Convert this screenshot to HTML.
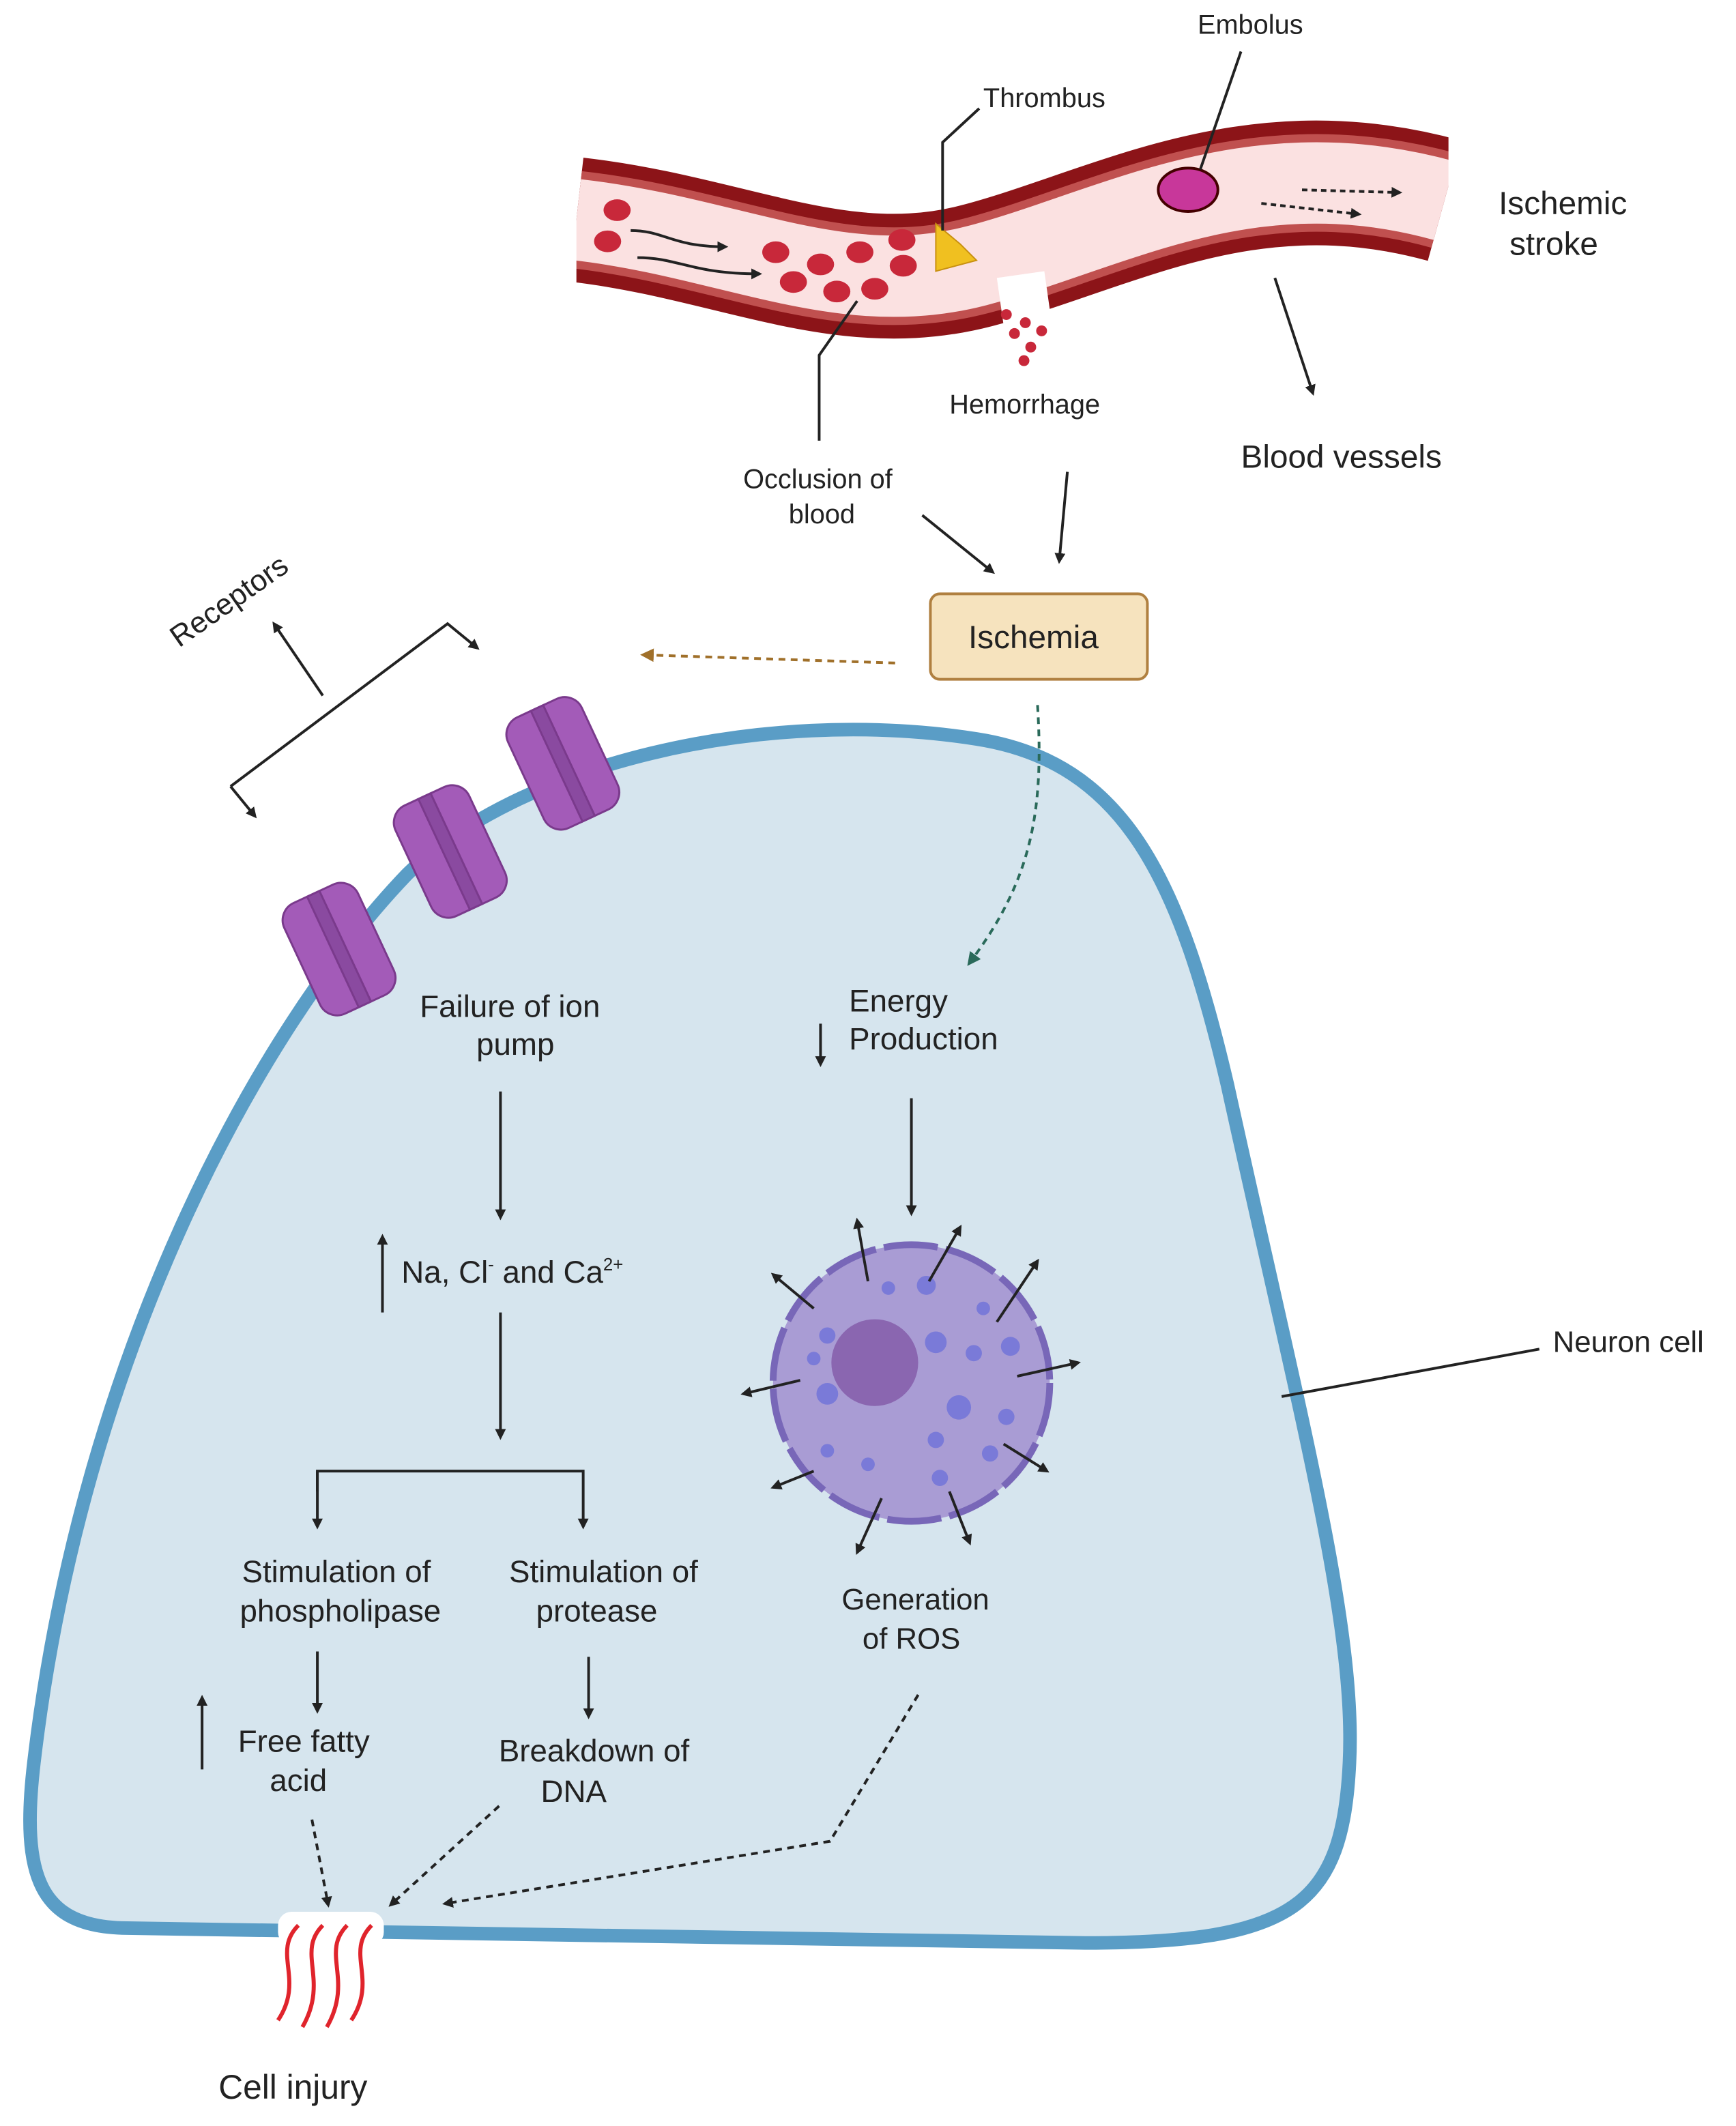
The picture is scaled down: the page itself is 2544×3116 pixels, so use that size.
<!DOCTYPE html>
<html><head><meta charset="utf-8"><style>
html,body{margin:0;padding:0;background:#fff}
svg{display:block}
text{font-family:"Liberation Sans",sans-serif;fill:#222}
</style></head><body>
<svg width="2544" height="3116" viewBox="0 0 1280 1568" preserveAspectRatio="none">
<defs>
<marker id="a" markerWidth="8" markerHeight="8" refX="6" refY="4" orient="auto" markerUnits="userSpaceOnUse"><path d="M0,0 L8,4 L0,8 Z" fill="#222"/></marker>
<marker id="ab" markerWidth="10" markerHeight="10" refX="7" refY="5" orient="auto" markerUnits="userSpaceOnUse"><path d="M0,0 L10,5 L0,10 Z" fill="#a0702a"/></marker>
<marker id="ag" markerWidth="10" markerHeight="10" refX="7" refY="5" orient="auto" markerUnits="userSpaceOnUse"><path d="M0,0 L10,5 L0,10 Z" fill="#2a6a5a"/></marker>
</defs>
<!-- vessel -->
<g fill="none">
<path d="M425,162 C540,175 620,222 720,196 C820,170 920,108 1065,148" stroke="#8c1418" stroke-width="92"/>
<path d="M425,162 C540,175 620,222 720,196 C820,170 920,108 1065,148" stroke="#c0504f" stroke-width="72"/>
<path d="M425,162 C540,175 620,222 720,196 C820,170 920,108 1065,148" stroke="#fbe1e1" stroke-width="60"/>
</g>
<rect x="380" y="90" width="45" height="150" fill="#fff"/>
<rect x="1068" y="60" width="60" height="180" fill="#fff"/>
<path d="M735,205 L770,200 L775,235 L740,240Z" fill="#fff"/>
<g fill="#c8283a">
<ellipse cx="455" cy="155" rx="10" ry="8"/><ellipse cx="448" cy="178" rx="10" ry="8"/>
<ellipse cx="572" cy="186" rx="10" ry="8"/><ellipse cx="605" cy="195" rx="10" ry="8"/>
<ellipse cx="634" cy="186" rx="10" ry="8"/><ellipse cx="665" cy="177" rx="10" ry="8"/>
<ellipse cx="585" cy="208" rx="10" ry="8"/><ellipse cx="617" cy="215" rx="10" ry="8"/>
<ellipse cx="645" cy="213" rx="10" ry="8"/><ellipse cx="666" cy="196" rx="10" ry="8"/>
<circle cx="742" cy="232" r="4"/><circle cx="756" cy="238" r="4"/><circle cx="748" cy="246" r="4"/><circle cx="768" cy="244" r="4"/><circle cx="760" cy="256" r="4"/><circle cx="755" cy="266" r="4"/>
</g>
<path d="M690,165 L708,180 L720,192 L690,200Z" fill="#f0c020" stroke="#c89010"/>
<ellipse cx="876" cy="140" rx="22" ry="16" fill="#c8379a" stroke="#400" stroke-width="2"/>
<g stroke="#222" stroke-width="2" fill="none">
<path d="M465,170 C490,170 495,182 535,182" marker-end="url(#a)"/>
<path d="M470,190 C500,190 510,202 560,202" marker-end="url(#a)"/>
<path d="M960,140 L1032,142" stroke-dasharray="4,3" marker-end="url(#a)"/>
<path d="M930,150 L1002,158" stroke-dasharray="4,3" marker-end="url(#a)"/>
<path d="M695,170 L695,105 L722,80"/>
<path d="M885,125 L915,38"/>
<path d="M604,325 L604,262 L632,222"/>
<path d="M940,205 L968,290" marker-end="url(#a)"/>
<path d="M680,380 L732,422" marker-end="url(#a)"/>
<path d="M787,348 L781,414" marker-end="url(#a)"/>
</g>
<text x="883" y="25" font-size="20">Embolus</text>
<text x="725" y="79" font-size="20">Thrombus</text>
<text x="1105" y="158" font-size="24">Ischemic</text>
<text x="1113" y="188" font-size="24">stroke</text>
<text x="700" y="305" font-size="20">Hemorrhage</text>
<text x="915" y="345" font-size="24">Blood vessels</text>
<text x="603" y="360" font-size="20" text-anchor="middle">Occlusion of</text>
<text x="606" y="386" font-size="20" text-anchor="middle">blood</text>
<rect x="686" y="438" width="160" height="63" rx="7" fill="#f6e3be" stroke="#b08040" stroke-width="2"/>
<text x="762" y="478" font-size="24" text-anchor="middle">Ischemia</text>
<path d="M660,489 L475,483" stroke="#a0702a" stroke-width="2" stroke-dasharray="5,4" fill="none" marker-end="url(#ab)"/>
<!-- cell -->
<path d="M300,645 C380,565 560,520 720,545 C830,562 870,650 905,800 C960,1050 1000,1200 995,1300 C990,1405 955,1433 800,1433 L90,1422 C30,1420 15,1385 25,1300 C60,1000 190,760 300,645 Z" fill="#d6e5ee" stroke="#5a9dc6" stroke-width="10"/>
<path d="M765,520 C770,600 760,650 715,710" stroke="#2a6a5a" stroke-width="2" stroke-dasharray="5,4" fill="none" marker-end="url(#ag)"/>
<!-- receptors -->
<g fill="#a35bb8" stroke="#7a3a8c" stroke-width="1.5">
<g transform="translate(250,700) rotate(-25)"><rect x="-30" y="-45" width="60" height="90" rx="14"/><rect x="-5" y="-45" width="10" height="90" fill="#8a4aa0"/></g>
<g transform="translate(332,628) rotate(-25)"><rect x="-30" y="-45" width="60" height="90" rx="14"/><rect x="-5" y="-45" width="10" height="90" fill="#8a4aa0"/></g>
<g transform="translate(415,563) rotate(-25)"><rect x="-30" y="-45" width="60" height="90" rx="14"/><rect x="-5" y="-45" width="10" height="90" fill="#8a4aa0"/></g>
</g>
<g stroke="#222" stroke-width="2" fill="none">
<path d="M170,580 L330,460 L352,478" marker-end="url(#a)"/>
<path d="M170,580 L188,602" marker-end="url(#a)"/>
<path d="M238,513 L202,460" marker-end="url(#a)"/>
</g>
<text x="0" y="0" font-size="22" transform="translate(132,478) rotate(-35)">Receptors</text>
<!-- nucleus -->
<circle cx="672" cy="1020" r="102" fill="#a99cd4" stroke="#7867b8" stroke-width="5" stroke-dasharray="40,6"/>
<circle cx="645" cy="1005" r="32" fill="#8a66b0"/>
<g fill="#7a7ad8">
<circle cx="683" cy="948" r="7"/><circle cx="610" cy="985" r="6"/><circle cx="600" cy="1002" r="5"/><circle cx="690" cy="990" r="8"/><circle cx="718" cy="998" r="6"/><circle cx="745" cy="993" r="7"/>
<circle cx="610" cy="1028" r="8"/><circle cx="707" cy="1038" r="9"/><circle cx="742" cy="1045" r="6"/><circle cx="690" cy="1062" r="6"/><circle cx="730" cy="1072" r="6"/><circle cx="610" cy="1070" r="5"/><circle cx="640" cy="1080" r="5"/><circle cx="693" cy="1090" r="6"/><circle cx="655" cy="950" r="5"/><circle cx="725" cy="965" r="5"/>
</g>
<g stroke="#222" stroke-width="2" fill="none">
<path d="M672,810 L672,895" marker-end="url(#a)"/>
<path d="M640,945 L632,900" marker-end="url(#a)"/>
<path d="M685,945 L708,905" marker-end="url(#a)"/>
<path d="M735,975 L765,930" marker-end="url(#a)"/>
<path d="M600,965 L570,940" marker-end="url(#a)"/>
<path d="M750,1015 L795,1005" marker-end="url(#a)"/>
<path d="M590,1018 L548,1028" marker-end="url(#a)"/>
<path d="M740,1065 L772,1085" marker-end="url(#a)"/>
<path d="M600,1085 L570,1097" marker-end="url(#a)"/>
<path d="M650,1105 L632,1145" marker-end="url(#a)"/>
<path d="M700,1100 L715,1138" marker-end="url(#a)"/>
<path d="M605,755 L605,785" marker-end="url(#a)"/>
<path d="M369,805 L369,898" marker-end="url(#a)"/>
<path d="M282,968 L282,912" marker-end="url(#a)"/>
<path d="M369,968 L369,1060" marker-end="url(#a)"/>
<path d="M234,1100 L234,1085 L430,1085 L430,1126" marker-end="url(#a)"/>
<path d="M234,1085 L234,1126" marker-end="url(#a)"/>
<path d="M234,1218 L234,1262" marker-end="url(#a)"/>
<path d="M434,1222 L434,1266" marker-end="url(#a)"/>
<path d="M149,1305 L149,1252" marker-end="url(#a)"/>
<path d="M230,1342 L242,1405" stroke-dasharray="5,4" marker-end="url(#a)"/>
<path d="M368,1332 L288,1405" stroke-dasharray="5,4" marker-end="url(#a)"/>
<path d="M677,1250 L612,1358 L328,1404" stroke-dasharray="5,4" marker-end="url(#a)"/>
<path d="M945,1030 L1135,995"/>
</g>
<text x="376" y="750" font-size="23" text-anchor="middle">Failure of ion</text>
<text x="380" y="778" font-size="23" text-anchor="middle">pump</text>
<text x="626" y="746" font-size="23">Energy</text>
<text x="626" y="774" font-size="23">Production</text>
<text x="296" y="946" font-size="23">Na, Cl<tspan font-size="13" dy="-9">-</tspan><tspan dy="9"> and Ca</tspan><tspan font-size="13" dy="-9">2+</tspan></text>
<text x="248" y="1167" font-size="23" text-anchor="middle">Stimulation of</text>
<text x="251" y="1196" font-size="23" text-anchor="middle">phospholipase</text>
<text x="445" y="1167" font-size="23" text-anchor="middle">Stimulation of</text>
<text x="440" y="1196" font-size="23" text-anchor="middle">protease</text>
<text x="224" y="1292" font-size="23" text-anchor="middle">Free fatty</text>
<text x="220" y="1321" font-size="23" text-anchor="middle">acid</text>
<text x="438" y="1299" font-size="23" text-anchor="middle">Breakdown of</text>
<text x="423" y="1329" font-size="23" text-anchor="middle">DNA</text>
<text x="675" y="1187" font-size="22" text-anchor="middle">Generation</text>
<text x="672" y="1216" font-size="22" text-anchor="middle">of ROS</text>
<text x="1145" y="997" font-size="22">Neuron cell</text>
<!-- injury -->
<rect x="205" y="1410" width="78" height="25" rx="10" fill="#fff"/>
<g stroke="#e0242c" stroke-width="3" fill="none">
<path d="M220,1420 C200,1440 225,1460 205,1490"/>
<path d="M238,1420 C218,1440 243,1460 223,1495"/>
<path d="M256,1420 C236,1440 261,1460 241,1495"/>
<path d="M274,1420 C254,1440 279,1460 259,1490"/>
</g>
<text x="216" y="1548" font-size="25" text-anchor="middle">Cell injury</text>
</svg>
</body></html>
